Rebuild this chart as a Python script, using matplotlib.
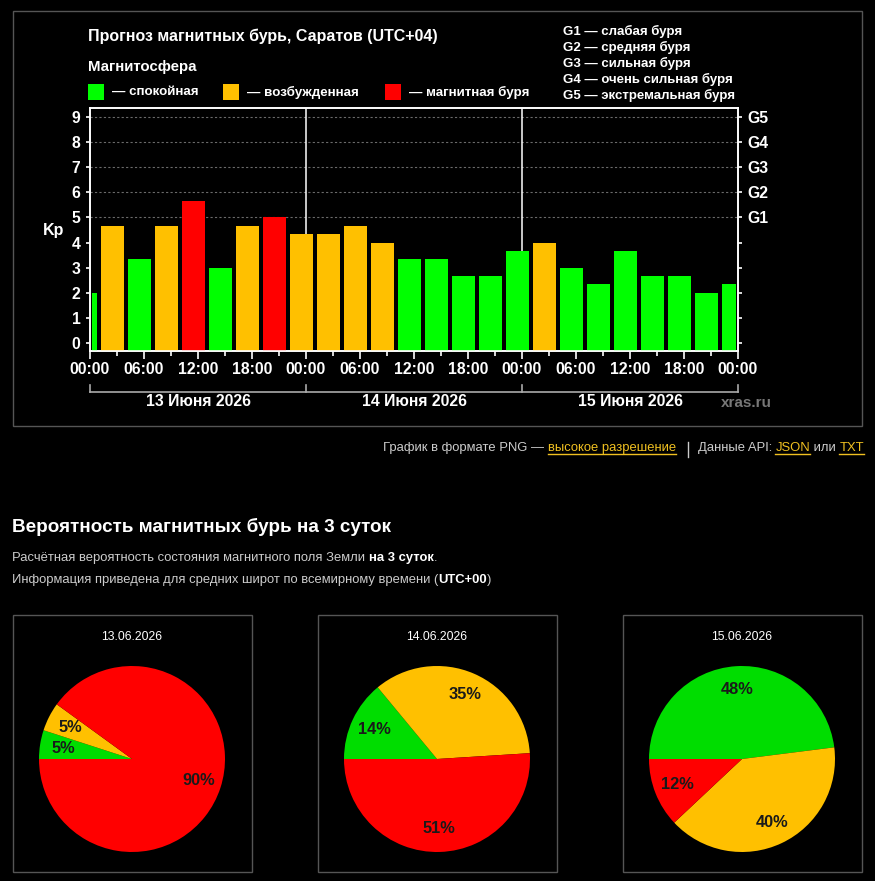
import matplotlib
matplotlib.use('Agg')
import matplotlib.pyplot as plt
from matplotlib.patches import Rectangle
from matplotlib.transforms import blended_transform_factory

# ---------------- data ----------------
bin_edges_h = [0, 1, 4, 7, 10, 13, 16, 19, 22, 25, 28, 31, 34, 37, 40, 43,
               46, 49, 52, 55, 58, 61, 64, 67, 70, 72]
kp_values = [2.0, 4.67, 3.33, 4.67, 5.67, 3.0, 4.67, 5.0, 4.33, 4.33, 4.67,
             4.0, 3.33, 3.33, 2.67, 2.67, 3.67, 4.0, 3.0, 2.33, 3.67, 2.67,
             2.67, 2.0, 2.33]
xtick_hours = list(range(0, 73, 6))
xtick_labels = ['00:00', '06:00', '12:00', '18:00'] * 3 + ['00:00']
day_labels = ['13 Июня 2026', '14 Июня 2026', '15 Июня 2026']
g_levels = [5, 6, 7, 8, 9]
g_labels = ['G1', 'G2', 'G3', 'G4', 'G5']
g_legend = ['G1 — слабая буря', 'G2 — средняя буря', 'G3 — сильная буря',
            'G4 — очень сильная буря', 'G5 — экстремальная буря']
state_labels = ['— спокойная', '— возбужденная', '— магнитная буря']
state_colors = ['#00ff00', '#ffc000', '#ff0000']

pie_dates = ['13.06.2026', '14.06.2026', '15.06.2026']
pie_quiet = [5, 14, 48]
pie_active = [5, 35, 40]
pie_storm = [90, 51, 12]
pie_colors = ['#00dd00', '#ffc000', '#ff0000']

FONT = ['Liberation Sans', 'DejaVu Sans']
plt.rcParams['font.family'] = FONT

W, H = 875, 881
fig = plt.figure(figsize=(W / 100, H / 100), dpi=100, facecolor='black')


def px_axes(x0, y0, x1, y1):
    return [x0 / W, 1 - y1 / H, (x1 - x0) / W, (y1 - y0) / H]


# overlay in pixel coordinates
ov = fig.add_axes([0, 0, 1, 1])
ov.set_xlim(0, W)
ov.set_ylim(H, 0)
ov.axis('off')

BORDER = '#555555'
ov.add_patch(Rectangle((12.5, 11), 849, 414.5, fill=False, ec=BORDER, lw=1))

# ---------------- bar chart ----------------
YLO, YHI = -0.33, 9.37
ax = fig.add_axes(px_axes(90, 108, 738, 351))
ax.set_facecolor('black')
ax.set_xlim(0, 72)
ax.set_ylim(YLO, YHI)


def state_of(kp):
    return 0 if kp < 4 else (1 if kp < 5 else 2)


gap = 0.18
for i, kp in enumerate(kp_values):
    a, b = bin_edges_h[i], bin_edges_h[i + 1]
    ax.bar(a + gap, kp - YLO, width=(b - a) - 2 * gap, bottom=YLO, align='edge',
           color=state_colors[state_of(kp)], zorder=3, linewidth=0)

for v in g_levels:
    ax.axhline(v, color='#6a6a6a', lw=0.8, ls=(0, (2, 2)), zorder=1)
for d in (24, 48):
    ax.axvline(d, color='white', lw=1.1, zorder=2)

for s in ax.spines.values():
    s.set_color('white')
    s.set_linewidth(1.2)

ax.set_xticks(xtick_hours)
ax.set_xticklabels(xtick_labels)
ax.set_xticks(list(range(0, 73, 3)), minor=True)
ax.tick_params(axis='x', which='major', colors='white', length=5.8, width=1.2,
               pad=2.2, labelsize=11.3)
ax.tick_params(axis='x', which='minor', colors='white', length=3.6, width=1.2)
ax.set_yticks(range(10))
ax.tick_params(axis='y', colors='white', length=2.8, width=1.2, pad=4,
               labelsize=11.3)
for lab in ax.get_xticklabels() + ax.get_yticklabels():
    lab.set_fontweight('bold')

ax2 = ax.twinx()
ax2.set_ylim(YLO, YHI)
ax2.set_yticks(range(10))
ax2.set_yticklabels([''] * 5 + g_labels)
ax2.tick_params(axis='y', colors='white', length=2.8, width=1.2, pad=4,
                labelsize=11.3)
for lab in ax2.get_yticklabels():
    lab.set_fontweight('bold')
for s in ax2.spines.values():
    s.set_color('white')
    s.set_linewidth(1.2)

# day bracket
tr = blended_transform_factory(ax.transData, ov.transData)
ov.plot([0, 72], [391.5, 391.5], color='#aaaaaa', lw=1.2, transform=tr, clip_on=False)
for d in (0, 24, 48, 72):
    ov.plot([d, d], [391.5, 384.5], color='#aaaaaa', lw=1.2, transform=tr, clip_on=False)
for i, lab in enumerate(day_labels):
    ov.text(12 + 24 * i, 402, lab, transform=tr, ha='center', va='center',
            color='white', fontsize=11.3, fontweight='bold')
ov.text(772, 403, 'xras.ru', ha='right', va='center', color='#777777',
        fontsize=11, fontweight='bold')

ov.text(54, 231, 'Kp', ha='center', va='center', color='white', fontsize=11.5,
        fontweight='bold')

# titles / legend
ov.text(88, 36, 'Прогноз магнитных бурь, Саратов (UTC+04)', ha='left', va='center',
        color='white', fontsize=11.5, fontweight='bold')
ov.text(88, 67, 'Магнитосфера', ha='left', va='center', color='white',
        fontsize=10.8, fontweight='bold')
leg_x = [88, 223, 385]
for x, lab, c in zip(leg_x, state_labels, state_colors):
    ov.add_patch(Rectangle((x, 84), 16, 16, color=c, lw=0))
    ov.text(x + 24, 92, lab, ha='left', va='center', color='white',
            fontsize=9.6, fontweight='bold')
for i, lab in enumerate(g_legend):
    ov.text(563, 31.5 + 16 * i, lab, ha='left', va='center', color='white',
            fontsize=9.5, fontweight='bold')

# ---------------- links line ----------------
renderer = fig.canvas.get_renderer()
GRAY = '#cccccc'
LINK = '#f0c020'


def run_parts(x, y, parts, underline_idx=(), right=False):
    texts = []
    widths = []
    for txt, kw in parts:
        t = ov.text(0, y, txt, ha='left', va='center', **kw)
        widths.append(t.get_window_extent(renderer).width)
        texts.append(t)
    if right:
        x = x - sum(widths)
    start = x
    for k, (t, w) in enumerate(zip(texts, widths)):
        t.set_x(x)
        if k in underline_idx:
            ov.plot([x, x + w], [y + 5.5, y + 5.5], color=parts[k][1]['color'], lw=1)
        x += w
    return start, x


fs_small = 9.4
run_parts(676, 448, [
    ('График в формате PNG — ', dict(color=GRAY, fontsize=fs_small)),
    ('высокое разрешение', dict(color=LINK, fontsize=fs_small)),
], underline_idx=(1,), right=True)
ov.plot([687.5, 687.5], [441.5, 456.5], color=GRAY, lw=1)
run_parts(864, 448, [
    ('Данные API: ', dict(color=GRAY, fontsize=fs_small)),
    ('JSON', dict(color=LINK, fontsize=fs_small)),
    (' или ', dict(color=GRAY, fontsize=fs_small)),
    ('TXT', dict(color=LINK, fontsize=fs_small)),
], underline_idx=(1, 3), right=True)

# ---------------- probability section ----------------
ov.text(12, 527, 'Вероятность магнитных бурь на 3 суток', ha='left', va='center',
        color='white', fontsize=13.6, fontweight='bold')
run_parts(12, 558, [
    ('Расчётная вероятность состояния магнитного поля Земли ', dict(color=GRAY, fontsize=9.4)),
    ('на 3 суток', dict(color='white', fontsize=9.4, fontweight='bold')),
    ('.', dict(color=GRAY, fontsize=9.4)),
])
run_parts(12, 580, [
    ('Информация приведена для средних широт по всемирному времени (',
     dict(color=GRAY, fontsize=9.4)),
    ('UTC+00', dict(color='white', fontsize=9.4, fontweight='bold')),
    (')', dict(color=GRAY, fontsize=9.4)),
])

box_x0 = [12.5, 317.5, 622.5]
R = 93
for i in range(3):
    bx = box_x0[i]
    ov.add_patch(Rectangle((bx, 615), 239, 257, fill=False, ec=BORDER, lw=1))
    cx = bx + 119.5
    cy = 759
    ov.text(cx, 637.5, pie_dates[i], ha='center', va='center', color='white',
            fontsize=8.8)
    pax = fig.add_axes(px_axes(cx - R, cy - R, cx + R, cy + R))
    vals = [pie_quiet[i], pie_active[i], pie_storm[i]]
    wedges, texts, autot = pax.pie(
        vals, colors=pie_colors, startangle=180, counterclock=False,
        autopct='%.0f%%', pctdistance=0.75, radius=1,
        wedgeprops=dict(linewidth=0),
        textprops=dict(color='#1a1a1a', fontsize=11.8, fontweight='bold'))
    pax.set_xlim(-1, 1)
    pax.set_ylim(-1, 1)
    pax.set_aspect('equal')
    pax.axis('off')

fig.savefig('out.png', dpi=100, facecolor='black')
